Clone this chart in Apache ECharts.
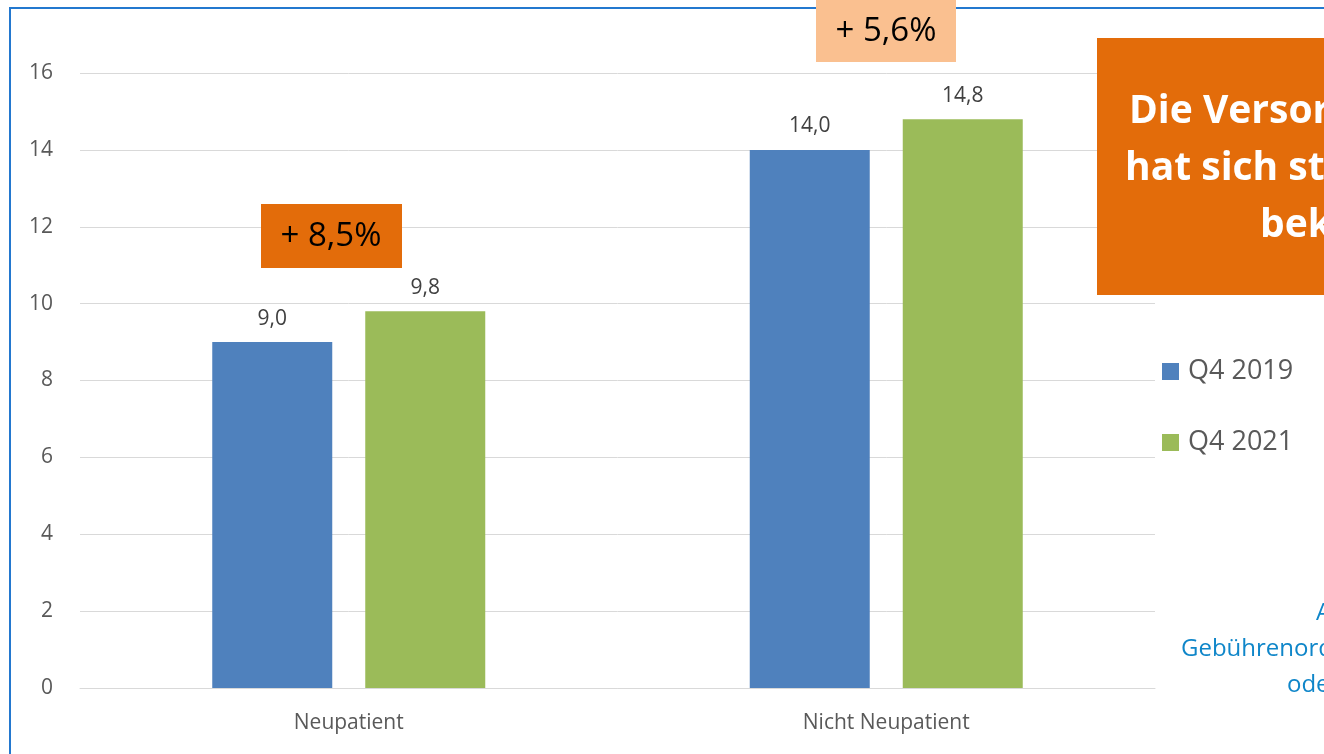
<!DOCTYPE html>
<html><head><meta charset="utf-8">
<script src="https://cdn.jsdelivr.net/npm/echarts@6/dist/echarts.min.js"></script>
<style>html,body{margin:0;padding:0;background:#fff}#c{width:1324px;height:754px}</style>
</head><body><div id="c"></div>
<script>
const categories = ['Neupatient', 'Nicht Neupatient'];
const q42019 = [9.0, 14.0];
const q42021 = [9.8, 14.8];
const seriesNames = ['Q4 2019', 'Q4 2021'];
const yTicks = { min: 0, max: 16, interval: 2 };
const changeLabels = ['+ 8,5%', '+ 5,6%'];
const boxLines = ['Die Versorgung', 'hat sich stärker', 'bekommen'];
const footLines = ['A', 'Gebührenordnung', 'oder'];

const FONT = '"Open Sans", "Liberation Sans", sans-serif';
const fmt = v => v.toFixed(1).replace('.', ',');
const chart = echarts.init(document.getElementById('c'), null, { renderer: 'canvas' });
chart.setOption({
  animation: false,
  textStyle: { fontFamily: FONT },
  grid: { left: 80, right: 169, top: 73, bottom: 66 },
  legend: {
    orient: 'vertical', left: 1162, top: 358, itemGap: 44, padding: 0,
    itemWidth: 17, itemHeight: 17, icon: 'rect',
    textStyle: { fontSize: 27, color: '#595959', fontFamily: FONT, padding: [0, 0, 0, 4] },
    data: seriesNames
  },
  xAxis: {
    type: 'category', data: categories,
    axisLine: { lineStyle: { color: '#d9d9d9', width: 1 } },
    axisTick: { show: false },
    axisLabel: { fontSize: 21, color: '#595959', margin: 25, fontFamily: FONT }
  },
  yAxis: {
    type: 'value', min: yTicks.min, max: yTicks.max, interval: yTicks.interval,
    axisLine: { show: false }, axisTick: { show: false },
    axisLabel: { fontSize: 21, color: '#595959', margin: 27, fontFamily: FONT },
    splitLine: { lineStyle: { color: '#d9d9d9', width: 1 } }
  },
  series: [
    { name: seriesNames[0], type: 'bar', data: q42019, barWidth: 120, barGap: '27.5%',
      itemStyle: { color: '#4f81bd' },
      label: { show: true, position: 'top', distance: 13, fontSize: 21, color: '#404040', formatter: p => fmt(p.value) } },
    { name: seriesNames[1], type: 'bar', data: q42021, barWidth: 120,
      itemStyle: { color: '#9bbb59' },
      label: { show: true, position: 'top', distance: 13, fontSize: 21, color: '#404040', formatter: p => fmt(p.value) } }
  ],
  graphic: [
    { type: 'line', shape: { x1: 9, y1: 8, x2: 1324, y2: 8 }, style: { stroke: '#2378cf', lineWidth: 2 }, z: 10 },
    { type: 'line', shape: { x1: 10, y1: 7, x2: 10, y2: 754 }, style: { stroke: '#2378cf', lineWidth: 2 }, z: 10 },
    { type: 'rect', shape: { x: 261, y: 204, width: 141, height: 64 }, style: { fill: '#e36c0a' }, z: 20 },
    { type: 'text', x: 331, y: 237, style: { text: changeLabels[0], fontSize: 33, fill: '#000', align: 'center', verticalAlign: 'middle', fontFamily: FONT }, z: 21 },
    { type: 'rect', shape: { x: 816, y: 0, width: 140, height: 62 }, style: { fill: '#fac090' }, z: 20 },
    { type: 'text', x: 886, y: 32, style: { text: changeLabels[1], fontSize: 33, fill: '#000', align: 'center', verticalAlign: 'middle', fontFamily: FONT }, z: 21 },
    { type: 'rect', shape: { x: 1097, y: 38, width: 400, height: 257 }, style: { fill: '#e36c0a' }, z: 20 },
    { type: 'text', x: 1129, y: 112, style: { text: boxLines[0], fontSize: 39, fontWeight: 'bold', fill: '#fff', align: 'left', verticalAlign: 'middle', fontFamily: FONT }, z: 21 },
    { type: 'text', x: 1125, y: 169, style: { text: boxLines[1], fontSize: 39, fontWeight: 'bold', fill: '#fff', align: 'left', verticalAlign: 'middle', fontFamily: FONT }, z: 21 },
    { type: 'text', x: 1260, y: 226, style: { text: boxLines[2], fontSize: 39, fontWeight: 'bold', fill: '#fff', align: 'left', verticalAlign: 'middle', fontFamily: FONT }, z: 21 },
    { type: 'text', x: 1316, y: 613, style: { text: footLines[0], fontSize: 24, fill: '#0f86c9', align: 'left', verticalAlign: 'middle', fontFamily: FONT }, z: 21 },
    { type: 'text', x: 1181, y: 649, style: { text: footLines[1], fontSize: 24, fill: '#0f86c9', align: 'left', verticalAlign: 'middle', fontFamily: FONT }, z: 21 },
    { type: 'text', x: 1287, y: 685, style: { text: footLines[2], fontSize: 24, fill: '#0f86c9', align: 'left', verticalAlign: 'middle', fontFamily: FONT }, z: 21 }
  ]
});
</script></body></html>
